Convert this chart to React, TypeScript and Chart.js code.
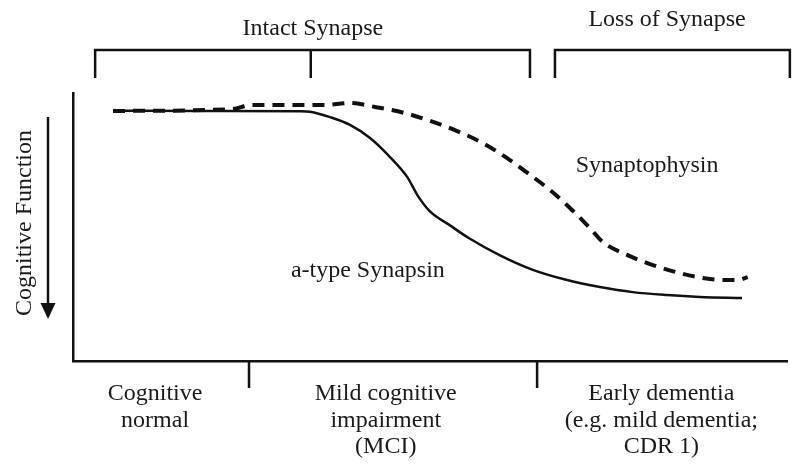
import React, { useEffect, useRef } from "react";
import { Chart, registerables } from "chart.js";

Chart.register(...registerables);

// Disease progression (0-100) vs cognitive function (0-100)
const synapsinX = [5.6, 17.8, 31.8, 33.2, 36.0, 38.8, 41.6, 44.4, 46.8, 48.3, 50.0, 52.8, 55.6, 59.8, 64.4, 69.2, 73.8, 78.4, 83.2, 87.8, 93.7];
const synapsinY = [93.4, 93.3, 93.2, 93.0, 91.0, 88.1, 83.2, 76.1, 68.7, 61.6, 55.8, 50.6, 45.6, 39.4, 34.0, 30.2, 27.6, 25.7, 24.6, 23.9, 23.5];
const physinX = [5.6, 22.4, 24.8, 35.2, 38.7, 42.3, 46.5, 50.0, 53.8, 57.4, 60.8, 63.7, 66.8, 69.6, 72.4, 74.2, 77.6, 81.2, 85.0, 89.2, 93.0, 94.5];
const physinY = [93.3, 94.0, 95.5, 95.5, 96.3, 94.8, 92.5, 89.6, 85.8, 81.3, 75.7, 70.1, 63.8, 57.1, 49.6, 44.4, 39.6, 35.8, 32.8, 30.6, 30.2, 31.3];

const seriesNames = ["a-type Synapsin", "Synaptophysin"];
const seriesLabelX = [41.3, 80.4];
const seriesLabelY = [31.3, 70.5];

const topBracketEdges = [[3.1, 64.0], [67.5, 100.4]];
const topBracketMidTicks = [33.3];
const topLabels = ["Intact Synapse", "Loss of Synapse"];
const topLabelX = [33.6, 83.2];

const stageDividers = [24.65, 65.0];
const stageLabels = [["Cognitive", "normal"], ["Mild cognitive", "impairment", "(MCI)"], ["Early dementia", "(e.g. mild dementia;", "CDR 1)"]];
const stageLabelX = [11.5, 43.8, 82.4];

const yTitle = "Cognitive Function";

const FONT = "24px 'Liberation Serif', 'Times New Roman', serif";
const INK = "#111";

const annotations = {
  id: "annotations",
  afterDraw(chart: any) {
    const { ctx, chartArea, scales } = chart;
    const xs = scales.x;
    const ys = scales.y;
    const top = chartArea.top;
    const bottom = chartArea.bottom;
    const left = chartArea.left;
    ctx.save();
    ctx.strokeStyle = INK;
    ctx.fillStyle = "#1a1a1a";
    ctx.lineWidth = 2.5;
    ctx.lineCap = "butt";

    // top brackets
    const by = top - 43;
    const bt = top - 15;
    topBracketEdges.forEach(([a, b]) => {
      const pa = xs.getPixelForValue(a);
      const pb = xs.getPixelForValue(b);
      ctx.beginPath();
      ctx.moveTo(pa, bt);
      ctx.lineTo(pa, by);
      ctx.lineTo(pb, by);
      ctx.lineTo(pb, bt);
      ctx.stroke();
    });
    topBracketMidTicks.forEach((v) => {
      const p = xs.getPixelForValue(v);
      ctx.beginPath();
      ctx.moveTo(p, by);
      ctx.lineTo(p, bt);
      ctx.stroke();
    });

    // stage dividers under the x axis
    stageDividers.forEach((v) => {
      const p = xs.getPixelForValue(v);
      ctx.beginPath();
      ctx.moveTo(p, bottom);
      ctx.lineTo(p, bottom + 27);
      ctx.stroke();
    });

    // text
    ctx.font = FONT;
    ctx.textAlign = "center";
    ctx.textBaseline = "alphabetic";
    topLabels.forEach((t, i) => {
      ctx.fillText(t, xs.getPixelForValue(topLabelX[i]), i === 0 ? top - 58 : top - 67);
    });
    seriesNames.forEach((t, i) => {
      ctx.fillText(t, xs.getPixelForValue(seriesLabelX[i]), ys.getPixelForValue(seriesLabelY[i]));
    });
    stageLabels.forEach((lines, i) => {
      lines.forEach((ln, j) => {
        ctx.fillText(ln, xs.getPixelForValue(stageLabelX[i]), bottom + 39 + j * 26.5);
      });
    });

    // y title, rotated
    ctx.save();
    ctx.translate(left - 42, (top + bottom) / 2 - 4);
    ctx.rotate(-Math.PI / 2);
    ctx.fillText(yTitle, 0, 0);
    ctx.restore();

    // down arrow
    const ax = left - 25;
    ctx.lineWidth = 2.5;
    ctx.beginPath();
    ctx.moveTo(ax, top + 24);
    ctx.lineTo(ax, bottom - 58);
    ctx.stroke();
    ctx.fillStyle = INK;
    ctx.beginPath();
    ctx.moveTo(ax - 7.5, bottom - 58);
    ctx.lineTo(ax + 7.5, bottom - 58);
    ctx.lineTo(ax, bottom - 42);
    ctx.closePath();
    ctx.fill();
    ctx.restore();
  },
};

export default function App() {
  const ref = useRef<HTMLCanvasElement | null>(null);
  useEffect(() => {
    document.body.style.margin = "0";
    const canvas = ref.current;
    if (!canvas) return;
    const chart = new Chart(canvas, {
      type: "line",
      data: {
        datasets: [
          {
            label: seriesNames[0],
            data: synapsinX.map((x, i) => ({ x, y: synapsinY[i] })),
            borderColor: INK,
            borderWidth: 2.5,
            pointRadius: 0,
            cubicInterpolationMode: "monotone",
            fill: false,
          },
          {
            label: seriesNames[1],
            data: physinX.map((x, i) => ({ x, y: physinY[i] })),
            borderColor: INK,
            borderWidth: 4,
            borderDash: [12, 8],
            pointRadius: 0,
            cubicInterpolationMode: "monotone",
            fill: false,
          },
        ],
      },
      options: {
        responsive: false,
        animation: false,
        devicePixelRatio: 1,
        layout: { padding: { left: 73, top: 93, right: 13, bottom: 104 } },
        plugins: { legend: { display: false }, tooltip: { enabled: false } },
        scales: {
          x: {
            type: "linear",
            min: 0,
            max: 100,
            grid: { display: false, drawTicks: false },
            ticks: { display: false },
            border: { display: true, color: INK, width: 2.5 },
          },
          y: {
            type: "linear",
            min: 0,
            max: 100,
            grid: { display: false, drawTicks: false },
            ticks: { display: false },
            border: { display: true, color: INK, width: 2.5 },
          },
        },
      },
      plugins: [annotations],
    });
    return () => chart.destroy();
  }, []);
  return (
    <div style={{ width: 800, height: 465, background: "#fff" }}>
      <canvas ref={ref} width={800} height={465} style={{ display: "block" }} />
    </div>
  );
}
